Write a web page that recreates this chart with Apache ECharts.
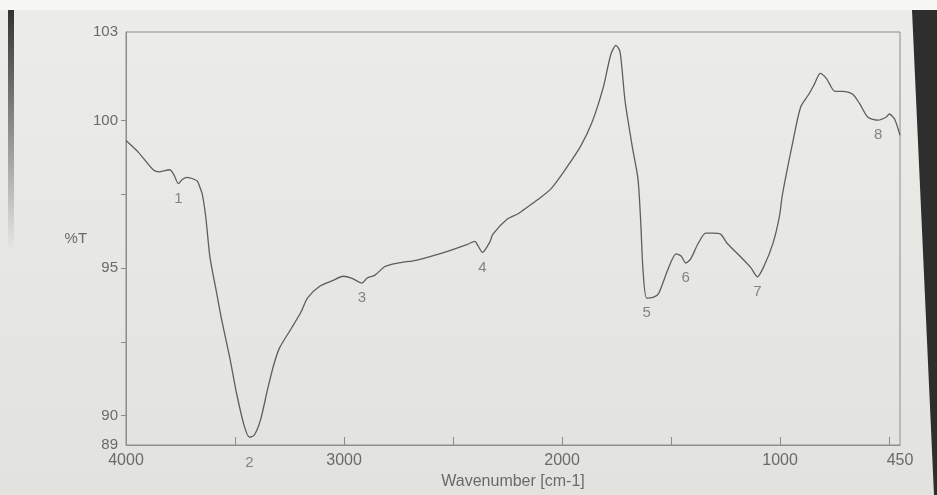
<!DOCTYPE html>
<html>
<head>
<meta charset="utf-8">
<style>
  html, body { margin: 0; padding: 0; background: #e6e6e4; }
  #chart { width: 937px; height: 495px; }
</style>
<script src="https://cdn.jsdelivr.net/npm/echarts@6/dist/echarts.min.js"></script>
</head>
<body>
<div id="chart"></div>
<script>
// ---- data ----
const wavenumbers = [4000,3943,3874,3846,3800,3780,3760,3742,3719,3686,
  3672,3661,3650,3634,3615,3587,3560,3523,3492,3457,
  3434,3412,3383,3350,3320,3295,3242,3198,3167,3110,
  3050,3004,2963,2918,2894,2858,2812,2757,2665,2594,
  2515,2437,2400,2386,2365,2332,2317,2251,2204,2177,
  2111,2049,1984,1914,1863,1810,1777,1753,1734,1711,
  1679,1652,1639,1629,1612,1580,1557,1514,1477,1454,
  1433,1410,1376,1341,1309,1272,1243,1188,1135,1104,
  1072,1032,1003,989,941,906,869,842,816,787,
  749,712,667,636,597,550,513,499,475,450];
const transmittance = [99.32,98.92,98.32,98.26,98.33,98.16,97.86,98.0,98.07,98.0,
  97.94,97.74,97.5,96.72,95.37,94.26,93.2,91.92,90.72,89.63,
  89.27,89.33,89.85,90.91,91.78,92.3,92.95,93.5,93.99,94.39,
  94.58,94.72,94.65,94.49,94.66,94.76,95.05,95.16,95.27,95.41,
  95.59,95.79,95.9,95.76,95.53,95.87,96.15,96.66,96.83,96.97,
  97.32,97.7,98.35,99.14,99.93,101.15,102.22,102.55,102.33,100.66,
  99.16,98.03,96.53,94.96,93.98,94.01,94.14,94.96,95.48,95.41,
  95.17,95.31,95.83,96.18,96.18,96.14,95.84,95.43,95.02,94.7,
  95.09,95.85,96.75,97.5,99.29,100.45,100.88,101.24,101.6,101.42,
  100.99,100.99,100.89,100.58,100.11,100.01,100.12,100.22,100.05,99.5];

const peakNames = ['1','2','3','4','5','6','7','8'];
const peakWavenumbers = [3760,3434,2918,2365,1612,1433,1104,550];
const peakValues = [97.86,89.27,94.49,95.53,93.98,95.17,94.7,100.01];

const xTickLabels = [4000,3000,2000,1000,450];
const xTickMarks = [4000,3500,3000,2500,2000,1500,1000,500];
const yTickLabels = [89,90,95,100,103];
const yTickMarks = [90,92.5,95,97.5,100];

// ---- chart ----
const textColor = '#6a6a6a';
const lineColor = '#8c8c8c';
const font = 'Liberation Sans, Arial, sans-serif';

const chart = echarts.init(document.getElementById('chart'), null, {renderer: 'canvas'});

const curve = wavenumbers.map((w, i) => [w, transmittance[i]]);
const peaks = peakNames.map((n, i) => ({
  name: n,
  value: [peakWavenumbers[i], peakValues[i]],
  label: { distance: n === '2' ? 18 : 7 }
}));

chart.setOption({
  animation: false,
  backgroundColor: 'transparent',
  graphic: [
    { type: 'rect', z: -10, silent: true,
      shape: { x: 0, y: 0, width: 937, height: 495 },
      style: { fill: new echarts.graphic.LinearGradient(0, 0, 0, 1, [
        { offset: 0, color: '#ecece9' }, { offset: 1, color: '#e2e2df' }]) } },
    { type: 'rect', z: -9, silent: true,
      shape: { x: 0, y: 0, width: 937, height: 10 },
      style: { fill: '#f7f7f6' } },
    { type: 'rect', z: -9, silent: true,
      shape: { x: 8, y: 10, width: 6, height: 240 },
      style: { fill: new echarts.graphic.LinearGradient(0, 0, 0, 1, [
        { offset: 0, color: 'rgba(40,40,40,0.95)' }, { offset: 1, color: 'rgba(40,40,40,0)' }]) } },
    { type: 'polygon', z: -9, silent: true,
      shape: { points: [[912, 10], [937, 10], [937, 495], [934, 495]] },
      style: { fill: '#2e2e2e' } }
  ],
  grid: {
    left: 126, right: 37, top: 32, bottom: 44,
    show: true, borderColor: lineColor, borderWidth: 1,
    backgroundColor: 'transparent'
  },
  xAxis: {
    type: 'value',
    inverse: true,
    min: 450, max: 4000,
    name: 'Wavenumber [cm-1]',
    nameLocation: 'middle',
    nameGap: 29,
    nameTextStyle: { color: textColor, fontSize: 16, fontFamily: font },
    axisLine: { show: true, lineStyle: { color: lineColor, width: 1 } },
    axisTick: { show: true, inside: true, length: 8, customValues: xTickMarks,
      lineStyle: { color: lineColor } },
    axisLabel: { customValues: xTickLabels, color: textColor, fontSize: 16,
      fontFamily: font, margin: 8, formatter: v => String(v) },
    splitLine: { show: false }
  },
  yAxis: {
    type: 'value',
    min: 89, max: 103,
    name: '%T',
    nameLocation: 'middle',
    nameRotate: 0,
    nameGap: 36,
    nameTextStyle: { color: textColor, fontSize: 15, fontFamily: font },
    axisLine: { show: true, lineStyle: { color: lineColor, width: 1 } },
    axisTick: { show: true, inside: false, length: 5, customValues: yTickMarks,
      lineStyle: { color: lineColor } },
    axisLabel: { customValues: yTickLabels, color: textColor, fontSize: 15,
      fontFamily: font, margin: 8, formatter: v => String(v) },
    splitLine: { show: false }
  },
  series: [
    {
      name: 'Spectrum',
      type: 'line',
      data: curve,
      showSymbol: false,
      smooth: 0.25,
      lineStyle: { color: '#5e5e5e', width: 1.3 },
      z: 3
    },
    {
      name: 'Peaks',
      type: 'scatter',
      data: peaks,
      symbolSize: 1,
      itemStyle: { color: 'rgba(0,0,0,0)' },
      label: {
        show: true,
        position: 'bottom',
        formatter: '{b}',
        color: textColor,
        fontSize: 15,
        fontFamily: font
      },
      z: 4
    }
  ]
});
</script>
</body>
</html>
